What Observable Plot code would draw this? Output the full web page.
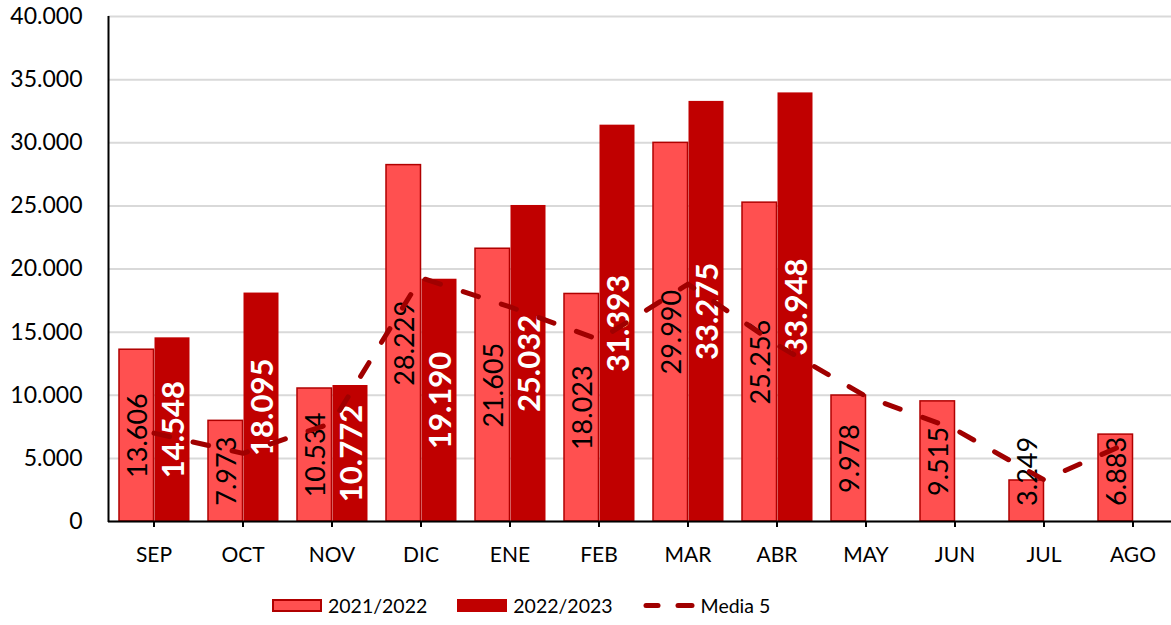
<!DOCTYPE html>
<html>
<head>
<meta charset="utf-8">
<script src="https://cdn.jsdelivr.net/npm/d3@7"></script>
<script src="https://cdn.jsdelivr.net/npm/@observablehq/plot@0.6"></script>
<style>
  html, body { margin: 0; padding: 0; background: #fff; }
  body { width: 1171px; height: 625px; position: relative; overflow: hidden; font-family: Lato, "Open Sans", sans-serif; }
  #legend { position: absolute; left: 272px; top: 594px; display: flex; align-items: center; font-size: 19.5px; color: #000; }
  .item { display: flex; align-items: center; margin-right: 30px; }
  .sw { width: 50px; height: 13px; box-sizing: border-box; margin-right: 6px; }
</style>
</head>
<body>
<div id="chart"></div>
<div id="legend"></div>
<script>
const months = ["SEP","OCT","NOV","DIC","ENE","FEB","MAR","ABR","MAY","JUN","JUL","AGO"];
const s2122 = [13606,7973,10534,28229,21605,18023,29990,25256,9978,9515,3249,6883];
const s2223 = [14548,18095,10772,19190,25032,31393,33275,33948,null,null,null,null];
const media5 = [7000,5400,7800,19300,17000,14400,18800,14000,9900,7300,3300,6400];
const yTicks = [0,5000,10000,15000,20000,25000,30000,35000,40000];
const seriesNames = ["2021/2022","2022/2023","Media 5"];

const cLight = "#FF5050", cLightStroke = "#B00000", cDark = "#C00000", cLine = "#A00000";

const fmt = d3.formatLocale({decimal: ",", thousands: ".", grouping: [3], currency: ["", ""]}).format(",d");

const a = months.map((m, i) => ({m, v: s2122[i]}));
const b = months.map((m, i) => ({m, v: s2223[i]})).filter(d => d.v != null);
const l = months.map((m, i) => ({m, v: media5[i]}));

const chart = Plot.plot({
  width: 1171,
  height: 580,
  marginTop: 16,
  marginBottom: 59,
  marginLeft: 108,
  marginRight: 0,
  style: {fontFamily: "Lato, 'Open Sans', sans-serif", fontSize: "22px", color: "#000", overflow: "visible"},
  x: {domain: months, range: [107.5, 1177.5], padding: 0, label: null},
  y: {domain: [0, 40000], label: null},
  marks: [
    Plot.gridY(yTicks, {stroke: "#d9d9d9", strokeOpacity: 1, strokeWidth: 2}),
    Plot.barY(a, {x: "m", y: "v", fill: cLight, stroke: cLightStroke, strokeWidth: 1.5, insetLeft: 10, insetRight: 44.5}),
    Plot.barY(b, {x: "m", y: "v", fill: cDark, insetLeft: 45.5, insetRight: 8.5}),
    Plot.text(a, {x: "m", y: d => Math.max(d.v / 2, 3970), text: d => fmt(d.v), rotate: -90, dx: -16, fill: "#000", fontSize: 27, textAnchor: "middle", lineAnchor: "middle"}),
    Plot.text(b, {x: "m", y: d => d.v / 2, text: d => fmt(d.v), rotate: -90, dx: 20, fill: "#fff", fontSize: 31, fontWeight: "bold", textAnchor: "middle", lineAnchor: "middle"}),
    Plot.line(l, {x: "m", y: "v", stroke: cLine, strokeWidth: 5, strokeDasharray: "16,24", strokeLinecap: "round", strokeLinejoin: "round"}),
    Plot.ruleY([0], {stroke: "#000", strokeWidth: 2}),
    Plot.axisY(yTicks, {tickSize: 0, tickPadding: 26, tickFormat: fmt, fontSize: 23}),
    Plot.axisX({tickSize: 6, tickPadding: 20, stroke: "#000", strokeWidth: 2, fontSize: 21})
  ]
});
document.getElementById("chart").appendChild(chart);

// left axis line
const svg = d3.select(chart);
svg.append("line").attr("x1", 108.5).attr("x2", 108.5).attr("y1", 16).attr("y2", 522).attr("stroke", "#000").attr("stroke-width", 2);

// legend
const lg = document.getElementById("legend");
const swatches = [
  `<div class="sw" style="background:${cLight};border:2px solid ${cLightStroke}"></div>`,
  `<div class="sw" style="background:${cDark}"></div>`,
  `<svg width="52" height="13" style="margin-right:6px"><line x1="3" x2="15" y1="6.5" y2="6.5" stroke="${cLine}" stroke-width="5" stroke-linecap="round"/><line x1="35" x2="49" y1="6.5" y2="6.5" stroke="${cLine}" stroke-width="5" stroke-linecap="round"/></svg>`
];
seriesNames.forEach((n, i) => {
  const it = document.createElement("div");
  it.className = "item";
  it.innerHTML = swatches[i] + `<span>${n}</span>`;
  lg.appendChild(it);
});
</script>
</body>
</html>
